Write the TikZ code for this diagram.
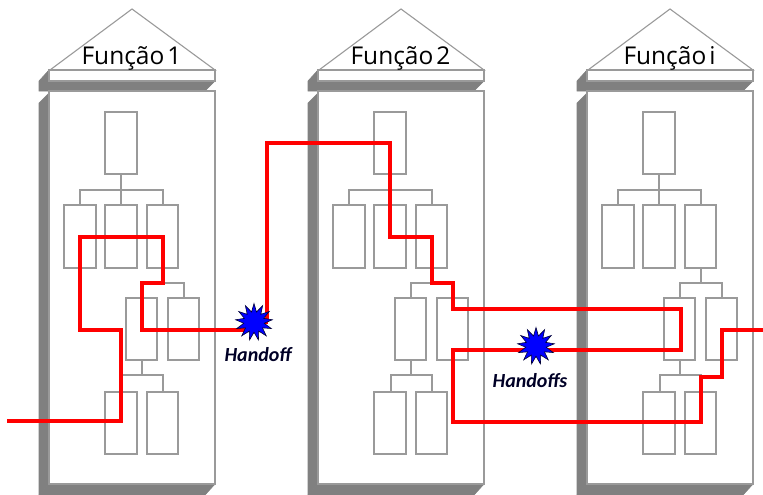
\documentclass[tikz,border=0pt]{standalone}
\usepackage{fontspec}
\setmainfont{Open Sans}
\newfontfamily\handofffont{Carlito}
\usetikzlibrary{shapes.geometric,backgrounds}
\definecolor{wallgray}{HTML}{808080}
\definecolor{edgegray}{HTML}{9A9A9A}
\tikzset{
    wall/.style={fill=wallgray,draw=wallgray,line width=0.6pt},
    face/.style={fill=white,draw=edgegray,line width=1.1pt},
    orgbox/.style={draw=edgegray,line width=1.1pt},
    flow/.style={draw=red,line width=4pt,line join=miter},
    burst/.style={star,star points=13,star point ratio=1.8,minimum size=37pt,inner sep=0pt,fill=blue,draw=black!80!blue,line width=0.6pt},
    handofflabel/.style={font=\handofffont\bfseries\itshape\fontsize{20}{20}\selectfont,text=black!85!blue},
    titlelabel/.style={font=\fontsize{24.5}{24.5}\selectfont,text=black}
}
\begin{document}
\begin{tikzpicture}[x=1pt,y=-1pt]
    \useasboundingbox (0,0) rectangle (763,495);

    % Handoffs
    \coordinate (entry) at (7,421);
    \coordinate (exit) at (763,330);
    \node[burst] (handoffa) at (254,322) {};
    \node[burst] (handoffb) at (536,346) {};
    \node[handofflabel] (labela) at (258,355) {Handoff};
    \node[handofflabel] (labelb) at (530,381) {Handoffs};

    \begin{scope}[on background layer]
    % Columns
    \foreach \col/\title in {0/Função\kern3pt 1,269/Função\kern3pt 2,538/Função\kern3pt i} {
        \begin{scope}[xshift=\col pt]
            % Shadow sides
            \fill[wall] (39,103) -- (49,93) -- (49,484) -- (39,495) -- cycle;
            \fill[wall] (39,495) -- (49,484) -- (215,484) -- (205,495) -- cycle;
            \fill[wall] (39,81) -- (49,70) -- (49,81) -- (215,81) -- (205,91) -- (39,91) -- cycle;
            \draw[black!60,line width=0.8pt] (49,484) -- (215,484);

            % Roof and face
            \draw[face] (132,9) -- (215,70) -- (50,70) -- cycle;
            \draw[face] (49,70) rectangle (215,81);
            \draw[face] (49,91) rectangle (215,484);

            % Boxes
            \draw[orgbox] (105,112) rectangle (137,174);
            \draw[orgbox] (64,205) rectangle (96,268);
            \draw[orgbox] (105,205) rectangle (137,268);
            \draw[orgbox] (147,205) rectangle (178,268);
            \draw[orgbox] (126,298) rectangle (157,360);
            \draw[orgbox] (168,298) rectangle (199,360);
            \draw[orgbox] (105,392) rectangle (137,454);
            \draw[orgbox] (147,392) rectangle (178,454);

            % Brackets
            \draw[orgbox] (121,174) -- (121,205);
            \draw[orgbox] (80,205) -- (80,190) -- (163,190) -- (163,205);
            \draw[orgbox] (163,268) -- (163,283);
            \draw[orgbox] (142,298) -- (142,283) -- (184,283) -- (184,298);
            \draw[orgbox] (142,360) -- (142,375);
            \draw[orgbox] (122,392) -- (122,375) -- (163,375) -- (163,392);

            \node[titlelabel,anchor=base] (title\col) at (131.5,65) {\title};
        \end{scope}
    }

    % Process flow
    \draw[flow] (entry) -- (121,421) -- (121,330) -- (80,330) -- (80,237) -- (163,237) -- (163,283) -- (142,283) -- (142,330) -- (254,330) -- (handoffa);
    \draw[flow] (handoffa) -- (267,322) -- (267,143) -- (390,143) -- (390,237) -- (432,237) -- (432,283) -- (453,283) -- (453,309) -- (681,309) -- (681,350) -- (536,350) -- (handoffb);
    \draw[flow] (handoffb) -- (536,350) -- (453,350) -- (453,422) -- (701,422) -- (701,377) -- (722,377) -- (722,330) -- (exit);
    \end{scope}
\end{tikzpicture}
\end{document}
